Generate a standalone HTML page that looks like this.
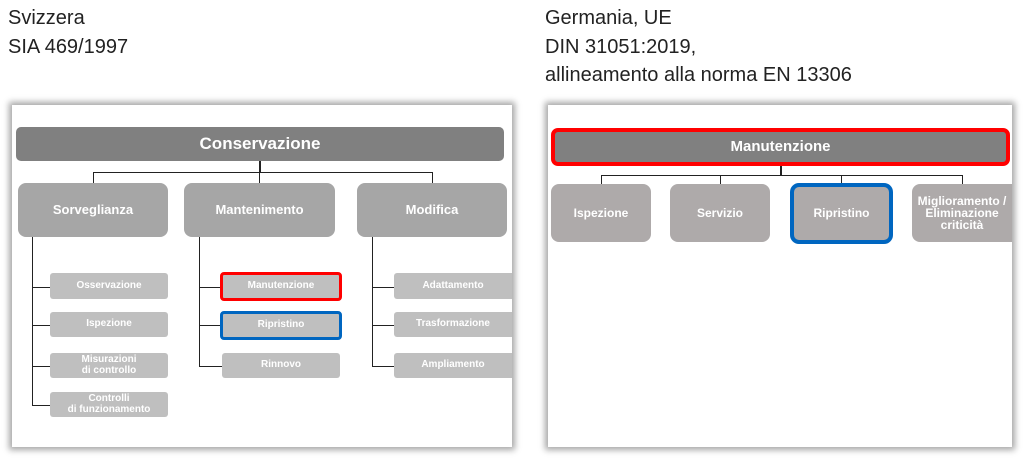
<!DOCTYPE html>
<html><head><meta charset="utf-8"><style>
body{margin:0;width:1024px;height:459px;background:#fff;position:relative;overflow:hidden;font-family:"Liberation Sans",sans-serif}
.t{position:absolute;font-size:20px;color:#222;line-height:28.5px}
.p{position:absolute;background:#fff;box-shadow:0 0 6px 3px rgba(0,0,0,.35)}
.b{position:absolute;display:flex;align-items:center;justify-content:center;text-align:center;color:#fff;font-weight:bold;border-radius:5px;box-sizing:border-box;line-height:1.05}
.l{position:absolute;background:#222}
</style></head><body>
<div class="t" style="left:8px;top:4px">Svizzera<br>SIA 469/1997</div>
<div class="t" style="left:545px;top:4px">Germania, UE<br>DIN 31051:2019,<br>allineamento alla norma EN 13306</div>

<div class="p" style="left:12px;top:105px;width:500px;height:342px"></div>
<div class="p" style="left:548px;top:105px;width:464px;height:342px"></div>

<!-- left -->
<div class="b" style="left:16px;top:127px;width:488px;height:34px;background:#808080;font-size:17px">Conservazione</div>
<div class="l" style="left:259px;top:161px;width:2px;height:11px"></div>
<div class="l" style="left:93px;top:172px;width:340px;height:1px"></div>
<div class="l" style="left:93px;top:172px;width:1px;height:11px"></div>
<div class="l" style="left:259px;top:172px;width:1px;height:11px"></div>
<div class="l" style="left:432px;top:172px;width:1px;height:11px"></div>
<div class="b" style="left:18px;top:183px;width:150px;height:54px;background:#a6a6a6;font-size:13px;border-radius:8px">Sorveglianza</div>
<div class="b" style="left:184px;top:183px;width:151px;height:54px;background:#a6a6a6;font-size:13px;border-radius:8px">Mantenimento</div>
<div class="b" style="left:357px;top:183px;width:150px;height:54px;background:#a6a6a6;font-size:13px;border-radius:8px">Modifica</div>

<div class="l" style="left:32px;top:237px;width:1px;height:168px"></div>
<div class="l" style="left:32px;top:287px;width:18px;height:1px"></div>
<div class="l" style="left:32px;top:325px;width:18px;height:1px"></div>
<div class="l" style="left:32px;top:366px;width:18px;height:1px"></div>
<div class="l" style="left:32px;top:405px;width:18px;height:1px"></div>
<div class="b" style="left:50px;top:273px;width:118px;height:26px;background:#bfbfbf;font-size:10px;border-radius:3px">Osservazione</div>
<div class="b" style="left:50px;top:312px;width:118px;height:25px;background:#bfbfbf;font-size:10px;border-radius:3px">Ispezione</div>
<div class="b" style="left:50px;top:353px;width:118px;height:25px;background:#bfbfbf;font-size:10px;border-radius:3px">Misurazioni<br>di controllo</div>
<div class="b" style="left:50px;top:392px;width:118px;height:25px;background:#bfbfbf;font-size:10px;border-radius:3px">Controlli<br>di funzionamento</div>

<div class="l" style="left:199px;top:237px;width:1px;height:129px"></div>
<div class="l" style="left:199px;top:287px;width:22px;height:1px"></div>
<div class="l" style="left:199px;top:325px;width:22px;height:1px"></div>
<div class="l" style="left:199px;top:366px;width:23px;height:1px"></div>
<div class="b" style="left:220px;top:272px;width:122px;height:29px;background:#bfbfbf;font-size:10px;border:3px solid #f00;border-radius:4px">Manutenzione</div>
<div class="b" style="left:220px;top:311px;width:122px;height:29px;background:#bfbfbf;font-size:10px;border:3px solid #0066c0;border-radius:4px">Ripristino</div>
<div class="b" style="left:222px;top:353px;width:118px;height:25px;background:#bfbfbf;font-size:10px;border-radius:3px">Rinnovo</div>

<div class="l" style="left:372px;top:237px;width:1px;height:129px"></div>
<div class="l" style="left:372px;top:287px;width:22px;height:1px"></div>
<div class="l" style="left:372px;top:325px;width:22px;height:1px"></div>
<div class="l" style="left:372px;top:366px;width:22px;height:1px"></div>
<div class="b" style="left:394px;top:273px;width:118px;height:26px;background:#bfbfbf;font-size:10px;border-radius:3px 0 0 3px">Adattamento</div>
<div class="b" style="left:394px;top:312px;width:118px;height:25px;background:#bfbfbf;font-size:10px;border-radius:3px 0 0 3px">Trasformazione</div>
<div class="b" style="left:394px;top:353px;width:118px;height:25px;background:#bfbfbf;font-size:10px;border-radius:3px 0 0 3px">Ampliamento</div>

<!-- right -->
<div class="b" style="left:551px;top:128px;width:459px;height:38px;background:#808080;font-size:15px;border:4px solid #f00;border-radius:7px">Manutenzione</div>
<div class="l" style="left:780px;top:166px;width:2px;height:9px"></div>
<div class="l" style="left:601px;top:175px;width:362px;height:1px"></div>
<div class="l" style="left:601px;top:175px;width:1px;height:9px"></div>
<div class="l" style="left:720px;top:175px;width:1px;height:9px"></div>
<div class="l" style="left:841px;top:175px;width:1px;height:9px"></div>
<div class="l" style="left:962px;top:175px;width:1px;height:9px"></div>
<div class="b" style="left:551px;top:184px;width:100px;height:58px;background:#aeaaaa;font-size:12px;border-radius:8px">Ispezione</div>
<div class="b" style="left:670px;top:184px;width:100px;height:58px;background:#aeaaaa;font-size:12px;border-radius:8px">Servizio</div>
<div class="b" style="left:790px;top:183px;width:103px;height:61px;background:#aeaaaa;font-size:12px;border:4px solid #0066c0;border-radius:9px">Ripristino</div>
<div class="b" style="left:912px;top:184px;width:100px;height:58px;background:#aeaaaa;font-size:12px;border-radius:8px 0 0 8px;line-height:1">Miglioramento /<br>Eliminazione<br>criticità</div>
</body></html>
